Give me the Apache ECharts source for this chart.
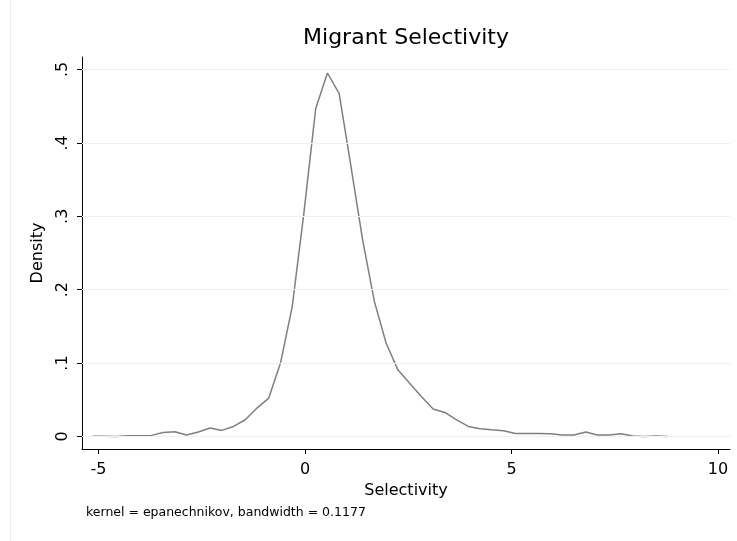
<!DOCTYPE html>
<html>
<head>
<meta charset="utf-8">
<script src="https://cdn.jsdelivr.net/npm/echarts@6/dist/echarts.min.js"></script>
<style>
  html, body { margin: 0; padding: 0; background: #ffffff; }
  #chart { width: 737px; height: 541px; }
</style>
</head>
<body>
<div id="chart"></div>
<script>
// Kernel density estimate of selectivity (50 evaluation points)
const selectivity = [
  -5.143, -4.859, -4.574, -4.290, -4.006, -3.722, -3.437, -3.153, -2.869, -2.584,
  -2.300, -2.016, -1.731, -1.447, -1.163, -0.878, -0.594, -0.310, -0.026, 0.259,
  0.543, 0.827, 1.112, 1.396, 1.680, 1.965, 2.249, 2.533, 2.817, 3.102,
  3.386, 3.670, 3.955, 4.239, 4.523, 4.808, 5.092, 5.376, 5.661, 5.945,
  6.229, 6.514, 6.798, 7.082, 7.366, 7.651, 7.935, 8.219, 8.504, 8.788
];
const density = [
  0.0004, 0.0002, 0.0000, 0.0008, 0.0009, 0.0014, 0.0054, 0.0064, 0.0019, 0.0060,
  0.0114, 0.0082, 0.0136, 0.0227, 0.0386, 0.0522, 0.0999, 0.1769, 0.3050, 0.4468,
  0.4952, 0.4672, 0.3680, 0.2676, 0.1837, 0.1270, 0.0907, 0.0725, 0.0545, 0.0373,
  0.0327, 0.0225, 0.0136, 0.0105, 0.0091, 0.0078, 0.0041, 0.0041, 0.0041, 0.0036,
  0.0018, 0.0018, 0.0060, 0.0018, 0.0018, 0.0036, 0.0005, 0.0000, 0.0005, 0.0000
];
const xTicks = [-5, 0, 5, 10];
const yTicks = [0, 0.1, 0.2, 0.3, 0.4, 0.5];

const titleText = 'Migrant Selectivity';
const xName = 'Selectivity';
const yName = 'Density';
const noteText = 'kernel = epanechnikov, bandwidth = 0.1177';

const FONT = '"DejaVu Sans", "Liberation Sans", Arial, sans-serif';
const AXIS_COLOR = '#000000';
const GRID_COLOR = '#eaf2f3';
const LINE_COLOR = '#7f7f7f';

const points = selectivity.map((x, i) => [x, density[i]]);

function yLabel(v) {
  if (Math.abs(v) < 1e-9) return '0';
  return '.' + Math.round(v * 10);
}

const chart = echarts.init(document.getElementById('chart'), null, { renderer: 'canvas' });

chart.setOption({
  animation: false,
  backgroundColor: '#ffffff',
  grid: { left: 82, right: 7, top: 57, bottom: 92, containLabel: false },
  xAxis: {
    type: 'value',
    min: -5.40,
    max: 10.29,
    name: xName,
    nameLocation: 'middle',
    nameGap: 34,
    nameTextStyle: { fontFamily: FONT, fontSize: 16, color: '#000' },
    axisLine: { show: true, onZero: false, lineStyle: { color: AXIS_COLOR, width: 1 } },
    axisTick: { show: true, length: 5, customValues: xTicks, lineStyle: { color: AXIS_COLOR } },
    axisLabel: {
      customValues: xTicks,
      margin: 13,
      fontFamily: FONT, fontSize: 16, color: '#000',
      formatter: v => String(v)
    },
    splitLine: { show: false }
  },
  yAxis: {
    type: 'value',
    min: -0.01714,
    max: 0.517,
    name: yName,
    nameLocation: 'middle',
    nameGap: 36,
    nameTextStyle: { fontFamily: FONT, fontSize: 16, color: '#000' },
    axisLine: { show: true, onZero: false, lineStyle: { color: AXIS_COLOR, width: 1 } },
    axisTick: { show: true, length: 5, customValues: yTicks, lineStyle: { color: AXIS_COLOR } },
    axisLabel: {
      customValues: yTicks,
      rotate: 90,
      margin: 11,
      fontFamily: FONT, fontSize: 16, color: '#000',
      formatter: yLabel
    },
    splitLine: { show: false }
  },
  graphic: [
    {
      type: 'line',
      shape: { x1: 10.5, y1: 0, x2: 10.5, y2: 541 },
      style: { stroke: '#e6ecee', lineWidth: 1 },
      silent: true
    },
    {
      type: 'text',
      x: 406, y: 38,
      style: {
        text: titleText,
        font: '22px ' + FONT,
        fill: '#000',
        textAlign: 'center',
        textVerticalAlign: 'middle'
      }
    },
    {
      type: 'text',
      x: 86, y: 513,
      style: {
        text: noteText,
        font: '12.5px ' + FONT,
        fill: '#000',
        textAlign: 'left',
        textVerticalAlign: 'middle'
      }
    }
  ],
  series: [
    {
      // horizontal reference lines at each density tick
      type: 'line',
      data: [],
      silent: true,
      z: 1,
      markLine: {
        silent: true,
        symbol: ['none', 'none'],
        label: { show: false },
        lineStyle: { color: GRID_COLOR, width: 1, type: 'solid' },
        data: yTicks.map(v => ({ yAxis: v }))
      }
    },
    {
      type: 'line',
      data: points,
      z: 3,
      showSymbol: false,
      smooth: false,
      lineStyle: { color: LINE_COLOR, width: 1.5 },
      itemStyle: { color: LINE_COLOR }
    }
  ]
});
</script>
</body>
</html>
